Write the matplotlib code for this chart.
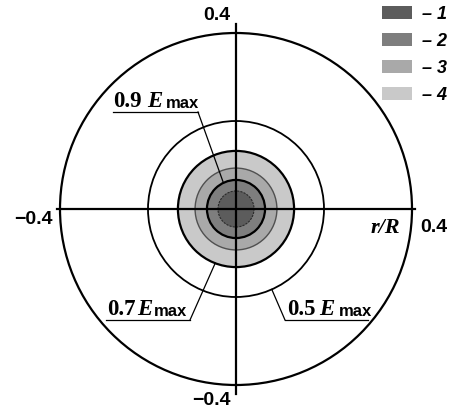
import numpy as np
import matplotlib
matplotlib.use("Agg")
import matplotlib.pyplot as plt
import matplotlib.patches as mpatches

# ── Field contours (r/R units) ────────────────────────────────────────────────

# outer edge of each shaded band, innermost first
band_radii  = [0.041, 0.066, 0.093, 0.132]
band_labels = ["1", "2", "3", "4"]
band_colors = ["#5c5c5c", "#7e7e7e", "#a9a9a9", "#c9c9c9"]

# labelled iso-lines E/Emax and their radii
level_values = [0.9, 0.7, 0.5]
level_radii  = [0.066, 0.132, 0.2]

boundary_r = 0.4
tick_values = [-0.4, 0.4]

W, H, DPI = 452, 412, 100
CX, CY, SCALE = 236, 209, 440      # centre pixel and pixels per r/R unit


def px(x, y):
    """Pixel position on the canvas -> data coordinates."""
    return (x - CX) / SCALE, (CY - y) / SCALE


fig = plt.figure(figsize=(W / DPI, H / DPI), dpi=DPI)
ax = fig.add_axes([0, 0, 1, 1])
x0, y0 = px(0, H)
x1, y1 = px(W, 0)
ax.set_xlim(x0, x1)
ax.set_ylim(y0, y1)
ax.set_aspect("equal")
ax.axis("off")

# shaded bands, largest first so the inner ones sit on top
for r, c in reversed(list(zip(band_radii, band_colors))):
    ax.add_patch(mpatches.Circle((0, 0), r, facecolor=c, edgecolor="none", zorder=1))

# band edges
edge_style = {
    0.041: dict(color="#2a2a2a", lw=0.8, ls=(0, (2, 1))),
    0.093: dict(color="#505050", lw=1.0, ls="-"),
}
for r in band_radii:
    st = edge_style.get(r, dict(color="black", lw=1.6, ls="-"))
    ax.add_patch(mpatches.Circle((0, 0), r, fill=False, edgecolor=st["color"],
                                 lw=st["lw"], ls=st["ls"], zorder=2))

for r in level_radii:
    if r not in band_radii:
        ax.add_patch(mpatches.Circle((0, 0), r, fill=False, edgecolor="black",
                                     lw=1.3, zorder=2))

ax.add_patch(mpatches.Circle((0, 0), boundary_r, fill=False, edgecolor="black",
                             lw=1.6, zorder=2))

# cross through the centre
ax.plot([-boundary_r - 0.007, boundary_r + 0.007], [0, 0], color="black", lw=1.6, zorder=3)
ax.plot([0, 0], [-boundary_r - 0.02, boundary_r + 0.02], color="black", lw=1.6, zorder=3)

# ── Tick labels ──────────────────────────────────────────────────────────────

tick_font = dict(family="Liberation Sans", fontweight="bold", fontsize=14)


def fmt(v):
    return f"{v:.1f}".replace("-", "\u2212")


ax.text(*px(217, 16), fmt(tick_values[1]), ha="center", va="center", **tick_font)
ax.text(*px(211, 401), fmt(tick_values[0]), ha="center", va="center", **tick_font)
ax.text(*px(33, 220), fmt(tick_values[0]), ha="center", va="center", **tick_font)
ax.text(*px(434, 228), fmt(tick_values[1]), ha="center", va="center", **tick_font)
ax.text(*px(385, 228), "r/R", ha="center", va="center", family="Liberation Serif",
        fontweight="bold", style="italic", fontsize=16)

# ── Level callouts ───────────────────────────────────────────────────────────

serif = dict(family="Liberation Serif", fontweight="bold", fontsize=16.5)
sans = dict(family="Liberation Sans", fontweight="bold", fontsize=12)

# (digit left, E left, max left, baseline, underline x0, x1, elbow x, angle deg)
callouts = [
    (113, 147, 166, 107, 113, 198, 198, 115.7),
    (107, 137, 154, 315, 106, 190, 190, -111.0),
    (287, 319, 339, 315, 285, 368, 285, -66.0),
]
for val, r, (xd, xe, xm, base, ux0, ux1, ex, ang) in zip(level_values, level_radii, callouts):
    ax.text(*px(xd, base), f"{val:.1f}", ha="left", va="baseline", **serif)
    ax.text(*px(xe, base), "E", ha="left", va="baseline", style="italic", **serif)
    ax.text(*px(xm, base + 1.5), "max", ha="left", va="baseline", **sans)
    uy = base + 5
    ax.plot([px(ux0, uy)[0], px(ux1, uy)[0]], [px(ux0, uy)[1]] * 2, color="black", lw=0.9)
    t = np.deg2rad(ang)
    ax.plot([px(ex, uy)[0], r * np.cos(t)], [px(ex, uy)[1], r * np.sin(t)],
            color="black", lw=0.9, zorder=4)

# ── Legend ───────────────────────────────────────────────────────────────────

handles = [mpatches.Patch(facecolor=c, edgecolor="none", label=f"\u2013 {lab}")
           for lab, c in zip(band_labels, band_colors)]
leg = ax.legend(handles=handles, loc="upper left",
                bbox_to_anchor=(382 / W, 1 - 6 / H), bbox_transform=fig.transFigure,
                frameon=False, borderpad=0, borderaxespad=0,
                handlelength=1.65, handleheight=0.72, handletextpad=0.55,
                labelspacing=0.55,
                prop=dict(family="Liberation Sans", weight="bold", style="italic", size=13))

fig.savefig("out.png", dpi=DPI)
